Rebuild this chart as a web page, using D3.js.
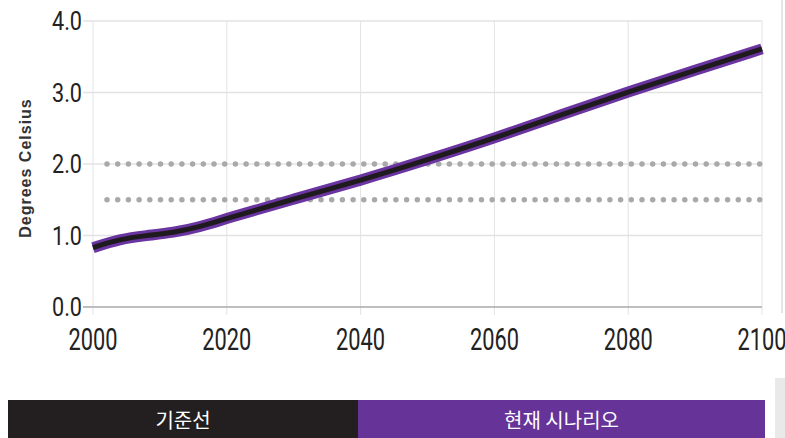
<!DOCTYPE html>
<html>
<head>
<meta charset="utf-8">
<script src="https://cdn.jsdelivr.net/npm/d3@7"></script>
<style>
  body { margin: 0; background: #fff; }
  svg { display: block; }
</style>
</head>
<body>
<div id="chart"></div>
<script>
// data
const years = [2000, 2004, 2008, 2012, 2016, 2020, 2030, 2040, 2050, 2060, 2070, 2080, 2090, 2100];
const temps = [0.83, 0.95, 1.00, 1.04, 1.12, 1.24, 1.51, 1.77, 2.06, 2.36, 2.69, 3.01, 3.31, 3.61];
const xTicks = [2000, 2020, 2040, 2060, 2080, 2100];
const yTicks = [0, 1, 2, 3, 4];
const thresholds = [2.0, 1.5];
const legendLabels = ["기준선", "현재 시나리오"];

const dimensions = {
    width: 785,
    height: 438,
    margin: { top: 21, right: 23, bottom: 131, left: 93 },
};
dimensions.boundedWidth = dimensions.width - dimensions.margin.left - dimensions.margin.right;
dimensions.boundedHeight = dimensions.height - dimensions.margin.top - dimensions.margin.bottom;

const svg = d3.select("#chart")
    .append("svg")
    .attr("width", dimensions.width)
    .attr("height", dimensions.height);

const xScale = d3.scaleLinear()
    .domain([2000, 2100])
    .range([0, dimensions.boundedWidth]);

const yScale = d3.scaleLinear()
    .domain([0, 4])
    .range([dimensions.boundedHeight, 0]);

const bounds = svg.append("g")
    .attr("transform", `translate(${dimensions.margin.left},${dimensions.margin.top})`);

// grid
bounds.selectAll("line.vgrid")
    .data(xTicks)
    .join("line")
    .attr("class", "vgrid")
    .attr("x1", d => xScale(d)).attr("x2", d => xScale(d))
    .attr("y1", 0).attr("y2", dimensions.boundedHeight + 8)
    .attr("stroke", "#e3e3e3")
    .attr("stroke-width", 1);

bounds.selectAll("line.hgrid")
    .data(yTicks)
    .join("line")
    .attr("class", "hgrid")
    .attr("x1", -10).attr("x2", dimensions.boundedWidth)
    .attr("y1", d => yScale(d)).attr("y2", d => yScale(d))
    .attr("stroke", d => d === 0 ? "#a8a8a8" : "#e3e3e3")
    .attr("stroke-width", 1.5);

// y tick labels
bounds.selectAll("text.ytick")
    .data(yTicks)
    .join("text")
    .attr("class", "ytick")
    .attr("x", -11)
    .attr("y", d => yScale(d) + 9)
    .attr("text-anchor", "end")
    .attr("textLength", 30)
    .attr("lengthAdjust", "spacingAndGlyphs")
    .style("font-family", "Roboto, sans-serif")
    .style("font-size", "25px")
    .style("fill", "#222")
    .text(d => d3.format(".1f")(d));

// x tick labels
bounds.selectAll("text.xtick")
    .data(xTicks)
    .join("text")
    .attr("class", "xtick")
    .attr("x", d => xScale(d))
    .attr("y", dimensions.boundedHeight + 43)
    .attr("text-anchor", "middle")
    .attr("textLength", 49)
    .attr("lengthAdjust", "spacingAndGlyphs")
    .style("font-family", "Roboto, sans-serif")
    .style("font-size", "31px")
    .style("fill", "#222")
    .text(d => d);

// y axis title
svg.append("text")
    .attr("transform", `translate(31,168) rotate(-90)`)
    .attr("text-anchor", "middle")
    .style("font-family", "'Liberation Sans', Arial, sans-serif")
    .style("font-weight", "bold")
    .style("font-size", "16px")
    .style("letter-spacing", "1px")
    .style("fill", "#333")
    .text("Degrees Celsius");

// dotted threshold lines
bounds.selectAll("line.threshold")
    .data(thresholds)
    .join("line")
    .attr("class", "threshold")
    .attr("x1", 14).attr("x2", dimensions.boundedWidth)
    .attr("y1", d => yScale(d)).attr("y2", d => yScale(d))
    .attr("stroke", "#a9a9a9")
    .attr("stroke-width", 5.5)
    .attr("stroke-linecap", "round")
    .attr("stroke-dasharray", "0 10.7");

// the series line
const points = years.map((y, i) => [y, temps[i]]);
const lineGen = d3.line()
    .x(d => xScale(d[0]))
    .y(d => yScale(d[1]))
    .curve(d3.curveBasis);

bounds.append("path")
    .attr("d", lineGen(points))
    .attr("fill", "none")
    .attr("stroke", "#6a35a0")
    .attr("stroke-width", 11);

bounds.append("path")
    .attr("d", lineGen(points))
    .attr("fill", "none")
    .attr("stroke", "#1e1a1d")
    .attr("stroke-width", 5);

// legend bar
const legend = svg.append("g");
const legendX = d3.scaleOrdinal().domain(legendLabels).range([8, 358]);
const legendW = d3.scaleOrdinal().domain(legendLabels).range([350, 407]);
const legendColor = d3.scaleOrdinal().domain(legendLabels).range(["#231f20", "#663399"]);

legend.selectAll("rect")
    .data(legendLabels)
    .join("rect")
    .attr("x", d => legendX(d))
    .attr("y", 400)
    .attr("width", d => legendW(d))
    .attr("height", 38)
    .attr("fill", d => legendColor(d));

legend.selectAll("text")
    .data(legendLabels)
    .join("text")
    .attr("x", d => legendX(d) + legendW(d) / 2)
    .attr("y", 428)
    .attr("text-anchor", "middle")
    .style("font-family", "'Noto Sans CJK KR', sans-serif")
    .style("font-size", "20px")
    .style("fill", "#fff")
    .text(d => d);

// right edge scroll strip
svg.append("line")
    .attr("x1", 782).attr("x2", 782)
    .attr("y1", 0).attr("y2", 313)
    .attr("stroke", "#e6e6e6")
    .attr("stroke-width", 2);

svg.append("rect")
    .attr("x", 775).attr("y", 378)
    .attr("width", 10).attr("height", 60)
    .attr("fill", "#e9e9e9");
</script>
</body>
</html>
